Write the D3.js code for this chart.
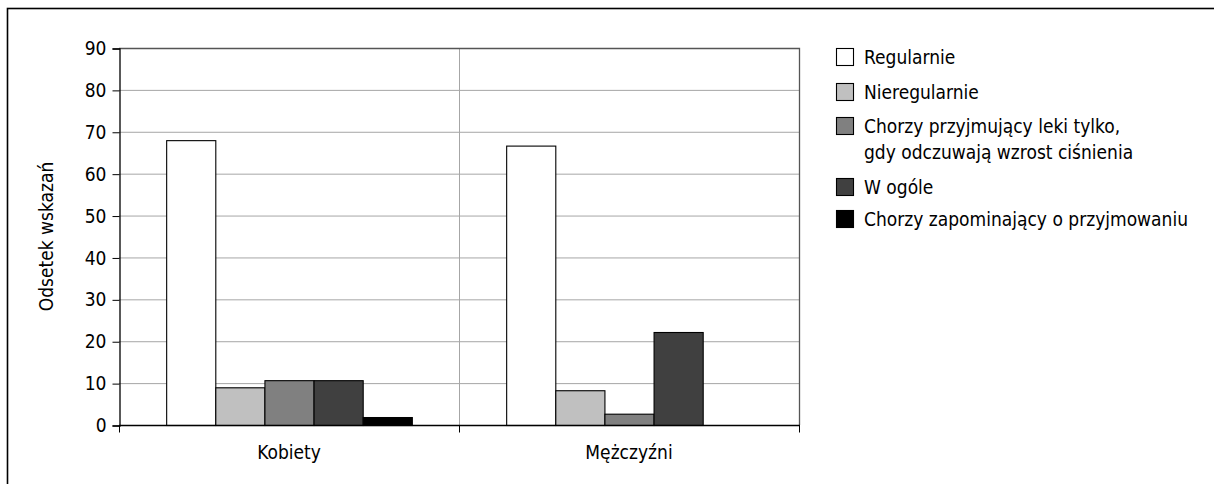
<!DOCTYPE html>
<html>
<head>
<meta charset="utf-8">
<script src="https://cdn.jsdelivr.net/npm/d3@7"></script>
<style>
  body { margin: 0; background: #fff; }
  svg text { font-family: "Liberation Sans Narrow", "DejaVu Sans Condensed", "Roboto", sans-serif; fill: #000; }
</style>
</head>
<body>
<svg id="main" width="1214" height="484"></svg>
<script>
var groups = ['Kobiety', 'Mężczyźni'];
var seriesNames = ['Regularnie', 'Nieregularnie', 'Chorzy przyjmujący leki tylko,\ngdy odczuwają wzrost ciśnienia', 'W ogóle', 'Chorzy zapominający o przyjmowaniu'];
var seriesColors = ['#ffffff', '#c0c0c0', '#808080', '#404040', '#000000'];
var kobiety = [68, 9, 10.7, 10.7, 1.9];
var mezczyzni = [66.7, 8.3, 2.7, 22.2, 0];
var yTicks = [0, 10, 20, 30, 40, 50, 60, 70, 80, 90];

var values = [kobiety, mezczyzni];

var svg = d3.select('svg#main');
var plot = { left: 119, top: 48, right: 799, bottom: 425 };

// outer frame, only left and top edges fall inside the picture
svg.append('rect')
  .attr('x', 7.5).attr('y', 8.5)
  .attr('width', 1300).attr('height', 600)
  .attr('fill', 'none').attr('stroke', '#000').attr('stroke-width', 1.6);

var x0 = d3.scaleBand().domain(groups).range([plot.left, plot.right]);
var x1 = d3.scaleBand().domain(d3.range(seriesNames.length))
  .range([0, x0.bandwidth()]).paddingOuter(0.96).paddingInner(0);
var y = d3.scaleLinear().domain([0, 90]).range([plot.bottom, plot.top]);

// horizontal gridlines
svg.append('g').selectAll('line').data(yTicks.slice(1, -1))
  .join('line')
  .attr('x1', plot.left).attr('x2', plot.right)
  .attr('y1', d => y(d) + 0.5).attr('y2', d => y(d) + 0.5)
  .attr('stroke', '#a6a6a6').attr('stroke-width', 1);

// vertical divider between the two groups
svg.append('line')
  .attr('x1', x0('Mężczyźni') + 0.5).attr('x2', x0('Mężczyźni') + 0.5)
  .attr('y1', plot.top).attr('y2', plot.bottom)
  .attr('stroke', '#a6a6a6');

// plot frame top and right
svg.append('path')
  .attr('d', `M ${plot.left} ${plot.top + 0.5} L ${plot.right + 0.5} ${plot.top + 0.5} L ${plot.right + 0.5} ${plot.bottom}`)
  .attr('fill', 'none').attr('stroke', '#555').attr('stroke-width', 1.3);

// bars
var g = svg.append('g').selectAll('g').data(groups)
  .join('g')
  .attr('transform', d => `translate(${x0(d)},0)`);

g.selectAll('rect').data((d, i) => values[i].map((v, j) => ({ v: v, j: j })))
  .join('rect')
  .attr('x', d => x1(d.j) + 0.5)
  .attr('width', x1.bandwidth())
  .attr('y', d => y(d.v) + 0.5)
  .attr('height', d => y(0) - y(d.v))
  .attr('fill', d => seriesColors[d.j])
  .attr('stroke', d => d.v === 0 ? '#999' : '#000')
  .attr('stroke-width', 1.1);

// y axis
var yAxis = svg.append('g')
  .attr('transform', `translate(${plot.left + 0.5},0.5)`)
  .call(d3.axisLeft(y).tickValues(yTicks).tickSize(7).tickPadding(6));
yAxis.select('.domain').attr('stroke', '#000').attr('stroke-width', 1.3);
yAxis.selectAll('.tick line').attr('stroke', '#000');
yAxis.selectAll('text').attr('font-size', 19).attr('fill', '#000');

// x axis, ticks sit on the group boundaries
var xAxis = svg.append('g').attr('transform', `translate(0,${plot.bottom + 0.5})`);
xAxis.append('line')
  .attr('x1', plot.left).attr('x2', plot.right + 1)
  .attr('stroke', '#000').attr('stroke-width', 1.3);
xAxis.selectAll('line.tk').data([plot.left, x0('Mężczyźni'), plot.right])
  .join('line').attr('class', 'tk')
  .attr('x1', d => d + 0.5).attr('x2', d => d + 0.5)
  .attr('y1', 0).attr('y2', 7)
  .attr('stroke', '#000');
xAxis.selectAll('text').data(groups)
  .join('text')
  .attr('x', d => x0(d) + x0.bandwidth() / 2)
  .attr('y', 33)
  .attr('text-anchor', 'middle')
  .attr('font-size', 19)
  .text(d => d);

// axis title
svg.append('text')
  .attr('transform', `translate(53,${(plot.top + plot.bottom) / 2}) rotate(-90)`)
  .attr('text-anchor', 'middle')
  .attr('font-size', 19)
  .text('Odsetek wskazań');

// legend
var legendRows = [57, 92, 126, 187, 219];
var legend = svg.append('g').selectAll('g').data(seriesNames)
  .join('g')
  .attr('transform', (d, i) => `translate(836,${legendRows[i]})`);

legend.append('rect')
  .attr('x', 0.5).attr('y', -8.5)
  .attr('width', 17).attr('height', 17)
  .attr('fill', (d, i) => seriesColors[i])
  .attr('stroke', '#000').attr('stroke-width', 1.1);

legend.append('text')
  .attr('x', 28)
  .attr('y', 7)
  .attr('font-size', 19)
  .selectAll('tspan').data(d => d.split('\n'))
  .join('tspan')
  .attr('x', 28)
  .attr('dy', (d, i) => i === 0 ? 0 : 26)
  .text(d => d);
</script>
</body>
</html>
